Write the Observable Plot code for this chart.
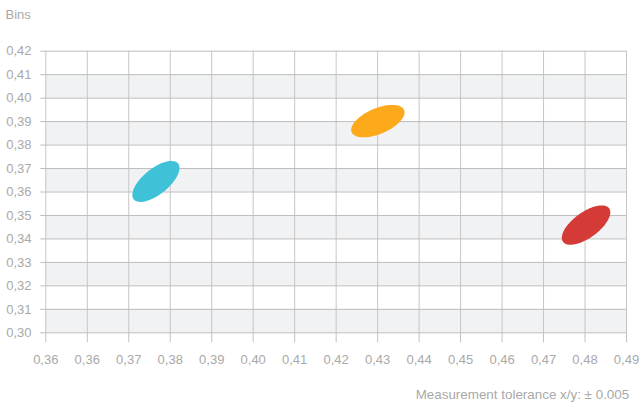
<!DOCTYPE html>
<html>
<head>
<meta charset="utf-8">
<script src="https://cdn.jsdelivr.net/npm/d3@7"></script>
<script src="https://cdn.jsdelivr.net/npm/@observablehq/plot@0.6"></script>
<style>
  html, body { margin: 0; padding: 0; background: #fff; }
</style>
</head>
<body>
<div id="chart"></div>
<script>
// ---- data ----
const xTickLabels = ["0,36","0,36","0,37","0,38","0,39","0,40","0,41","0,42","0,43","0,44","0,45","0,46","0,47","0,48","0,49"];
const xDomain = [0.355, 0.49];
const yTicks = [0.30,0.31,0.32,0.33,0.34,0.35,0.36,0.37,0.38,0.39,0.40,0.41,0.42];
const bandStarts = [0.30,0.32,0.34,0.36,0.38,0.40];
const binNames = ["cyan","orange","red"];
const binX = [0.3806, 0.4322, 0.4806];
const binY = [0.3645, 0.3902, 0.3459];
const binAngle = [39, 23, 36];           // tilt in degrees on screen
const binColors = ["#3fc1d7", "#fca91c", "#d43a36"];
const yLabel = "Bins";
const caption = "Measurement tolerance x/y: ± 0.005";

// ---- layout ----
const W = 639, H = 402;
const mL = 45.3, mR = 13, mT = 50.7, mB = 69.7;
const semiMajor = 28.5, semiMinor = 12.8; // px

const nX = xTickLabels.length;
const xStep = (xDomain[1] - xDomain[0]) / (nX - 1);
const xTicks = xTickLabels.map((_, i) => xDomain[0] + i * xStep);
const xFmt = d => xTickLabels[Math.round((d - xDomain[0]) / xStep)];
const yFmt = d => d.toFixed(2).replace(".", ",");

const kx = (W - mL - mR) / (xDomain[1] - xDomain[0]);
const ky = (H - mT - mB) / (yTicks[yTicks.length - 1] - yTicks[0]);

function ellipsePoints(i) {
  const th = binAngle[i] * Math.PI / 180;
  const pts = [];
  for (let k = 0; k < 120; k++) {
    const t = 2 * Math.PI * k / 120;
    const dx = semiMajor * Math.cos(t) * Math.cos(th) - semiMinor * Math.sin(t) * Math.sin(th);
    const dy = semiMajor * Math.cos(t) * Math.sin(th) + semiMinor * Math.sin(t) * Math.cos(th);
    pts.push({x: binX[i] + dx / kx, y: binY[i] + dy / ky});
  }
  return pts;
}

const ellipseMarks = binNames.map((n, i) =>
  Plot.line(ellipsePoints(i), {x: "x", y: "y", fill: binColors[i], stroke: "none", curve: "linear-closed"})
);

const chart = Plot.plot({
  width: W,
  height: H,
  marginLeft: mL,
  marginRight: mR,
  marginTop: mT,
  marginBottom: mB,
  style: {fontFamily: "'Liberation Sans', Arial, Helvetica, sans-serif", fontSize: "13px", color: "#a9a9a9", background: "#fff"},
  x: {domain: xDomain, label: null},
  y: {domain: [yTicks[0], yTicks[yTicks.length - 1]], label: null},
  marks: [
    Plot.rect(bandStarts, {y1: d => d, y2: d => d + 0.01, fill: "#f1f2f4"}),
    Plot.gridX(xTicks, {stroke: "#c6c6c6", strokeOpacity: 1}),
    Plot.gridY(yTicks, {stroke: "#bdbdbd", strokeOpacity: 1}),
    Plot.axisX(xTicks, {tickFormat: xFmt, tickSize: 10, tickPadding: 11.8, stroke: "#c0c0c0", color: "#a9a9a9", fontSize: 13, label: null}),
    Plot.axisY(yTicks, {tickFormat: yFmt, tickSize: 5, tickPadding: 9.3, stroke: "#bdbdbd", color: "#a9a9a9", fontSize: 13, label: null}),
    ...ellipseMarks,
    Plot.text([yLabel], {frameAnchor: "top-left", dx: -40.3, dy: -36.2, textAnchor: "start", lineAnchor: "middle", fill: "#a9a9a9", fontSize: 13}),
    Plot.text([caption], {frameAnchor: "bottom-right", dx: 2.7, dy: 61.5, textAnchor: "end", lineAnchor: "middle", fill: "#a9a9a9", fontSize: 13.4})
  ]
});
document.getElementById("chart").appendChild(chart);
</script>
</body>
</html>
